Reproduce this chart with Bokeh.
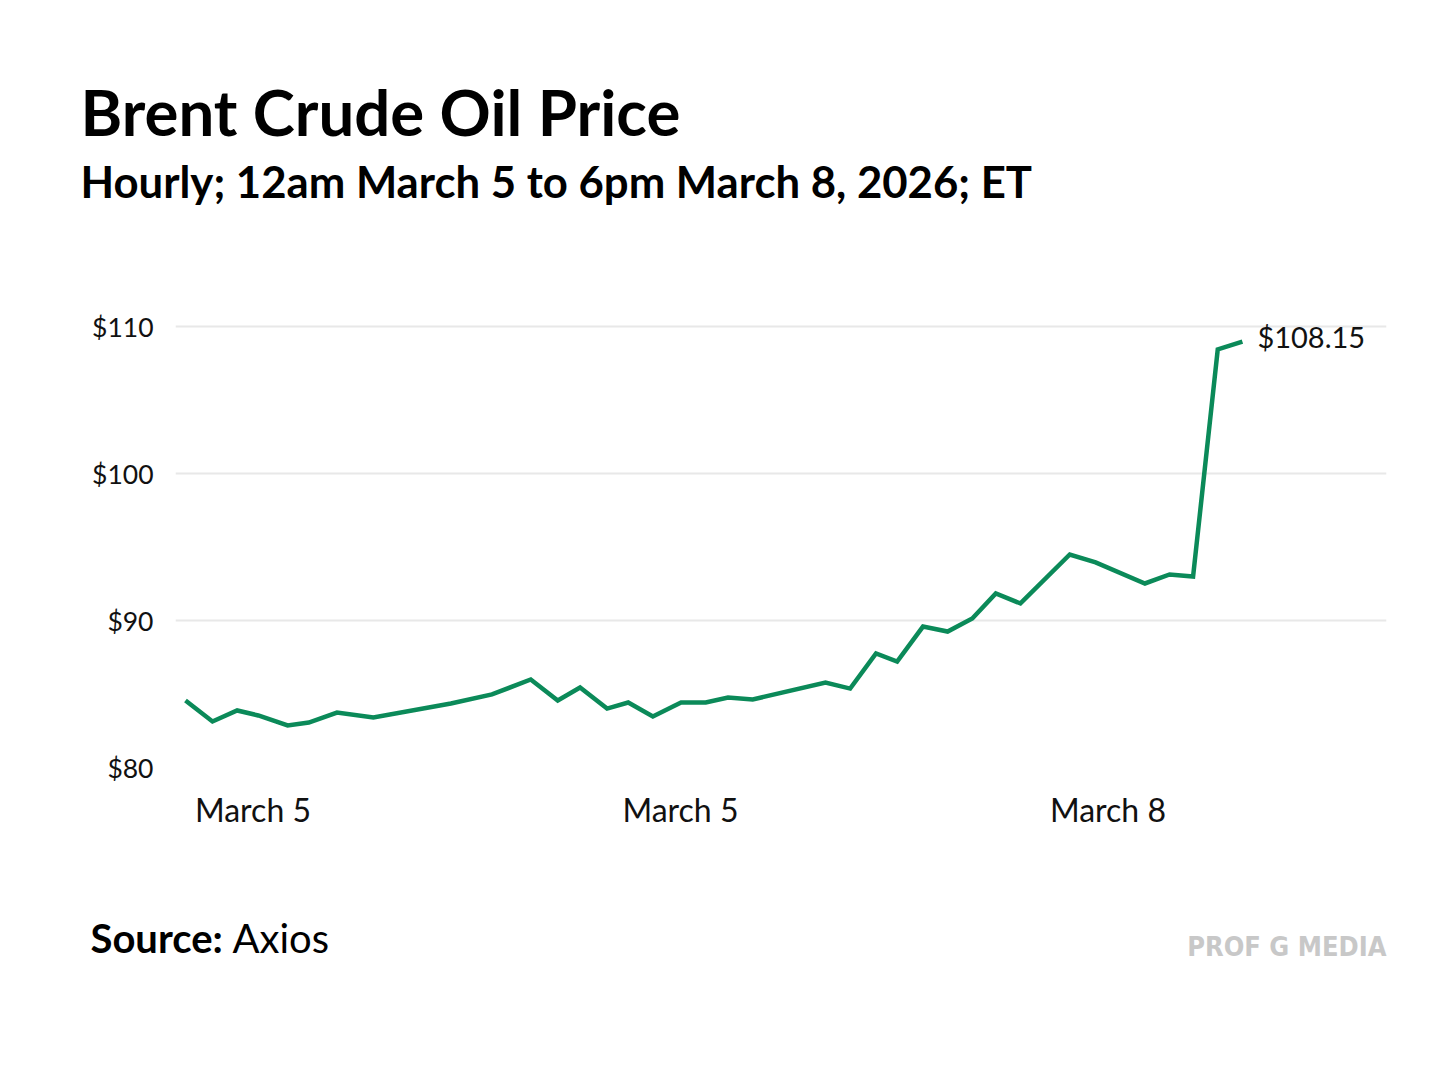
from bokeh.plotting import figure
from bokeh.models import Label, FixedTicker, NumeralTickFormatter, Range1d, ColumnDataSource
from bokeh.embed import file_html
from bokeh.resources import INLINE

# ---- data ----
hours = [0, 2.3, 4.4, 6.2, 8.7, 10.5, 12.9, 16.0, 22.6, 26.1, 29.4, 31.7, 33.6, 35.9,
         37.7, 39.8, 42.2, 44.3, 46.2, 48.3, 54.5, 56.6, 58.8, 60.6, 62.8, 64.9, 67.0,
         69.0, 71.1, 75.3, 77.5, 81.7, 83.8, 85.8, 87.9, 90.0]
price = [84.56, 83.13, 83.88, 83.54, 82.86, 83.06, 83.74, 83.40, 84.35, 84.97, 85.99,
         84.56, 85.44, 84.01, 84.42, 83.47, 84.42, 84.42, 84.76, 84.63, 85.78, 85.37,
         87.76, 87.21, 89.59, 89.25, 90.14, 91.84, 91.16, 94.49, 93.95, 92.52, 93.13,
         92.99, 108.44, 108.98]
y_ticks = [80, 90, 100, 110]
x_tick_pos = [5.75, 42.15, 78.55]
x_tick_labels = ["March 5", "March 5", "March 8"]
end_label = "$108.15"
title_text = "Brent Crude Oil Price"
subtitle_text = "Hourly; 12am March 5 to 6pm March 8, 2026; ET"
source_bold = "Source:"
source_text = "Axios"
brand_text = "PROF G MEDIA"

# ---- layout ----
W = 1440
HEAD_H, CHART_H, FOOT_H = 270, 590, 205
FL, FR = 175, 1386
FT, FB = 304 - HEAD_H, 767 - HEAD_H      # frame top/bottom inside chart figure
X0, X1 = -0.85, 102.27
Y0, Y1 = 80.0, 111.5

GREEN = "#0b8a59"
FONT = "Lato"


def blank(h):
    f = figure(width=W, height=h, output_backend="svg", toolbar_location=None,
               x_range=Range1d(0, W), y_range=Range1d(h, 0),
               min_border=0, min_border_left=0, min_border_right=0,
               min_border_top=0, min_border_bottom=0)
    f.axis.visible = False
    f.grid.visible = False
    f.outline_line_color = None
    f.background_fill_color = "white"
    f.border_fill_color = "white"
    return f


# header (y in page pixels, downward)
head = blank(HEAD_H)
head.add_layout(Label(x=80, y=110.5, text=title_text, text_font=FONT,
                      text_font_size="63.5px", text_font_style="bold", text_color="#000000",
                      text_baseline="alphabetic"))
head.add_layout(Label(x=80, y=180, text=subtitle_text, text_font=FONT,
                      text_font_size="43.7px", text_font_style="bold", text_color="#000000",
                      text_baseline="alphabetic"))

# chart
p = figure(width=W, height=CHART_H, output_backend="svg", toolbar_location=None,
           x_range=Range1d(X0, X1), y_range=Range1d(Y0, Y1),
           min_border_left=FL, min_border_right=W - FR,
           min_border_top=FT, min_border_bottom=CHART_H - FB)
p.outline_line_color = None
p.background_fill_color = "white"
p.border_fill_color = "white"

p.xgrid.grid_line_color = None
p.ygrid.grid_line_color = "#e8e8e8"
p.ygrid.grid_line_width = 2
p.ygrid.ticker = FixedTicker(ticks=y_ticks)

p.yaxis.ticker = FixedTicker(ticks=y_ticks)
p.yaxis.formatter = NumeralTickFormatter(format="$0")
p.xaxis.ticker = FixedTicker(ticks=x_tick_pos)
p.xaxis.major_label_overrides = {t: l for t, l in zip(x_tick_pos, x_tick_labels)}

for ax in (p.xaxis[0], p.yaxis[0]):
    ax.axis_line_color = None
    ax.major_tick_line_color = None
    ax.minor_tick_line_color = None
    ax.major_label_text_font = FONT
    ax.major_label_text_color = "#111111"
p.yaxis.major_label_text_font_size = "26.5px"
p.xaxis.major_label_text_font_size = "32px"
p.yaxis.major_label_standoff = 16
p.xaxis.major_label_standoff = 16

src = ColumnDataSource(dict(x=hours, y=price))
p.line("x", "y", source=src, line_color=GREEN, line_width=4.5, line_join="miter")

p.add_layout(Label(x=hours[-1], y=109.32, text=end_label, x_offset=15,
                   text_font=FONT, text_font_size="29px", text_color="#111111",
                   text_baseline="alphabetic"))

# footer (y in pixels from footer top)
foot = blank(FOOT_H)
foot.add_layout(Label(x=90, y=77.6, text=source_bold, text_font=FONT,
                      text_font_size="40px", text_font_style="bold", text_color="#000000",
                      text_baseline="alphabetic"))
foot.add_layout(Label(x=232, y=77.6, text=source_text, text_font=FONT,
                      text_font_size="40px", text_color="#000000",
                      text_baseline="alphabetic"))
foot.add_layout(Label(x=1386, y=86, text=brand_text,
                      text_font="DejaVu Sans Condensed", text_font_size="27px",
                      text_font_style="bold", text_color="#c8c8c8",
                      text_align="right", text_baseline="alphabetic"))

open("out.html", "w").write(file_html([head, p, foot], INLINE))
